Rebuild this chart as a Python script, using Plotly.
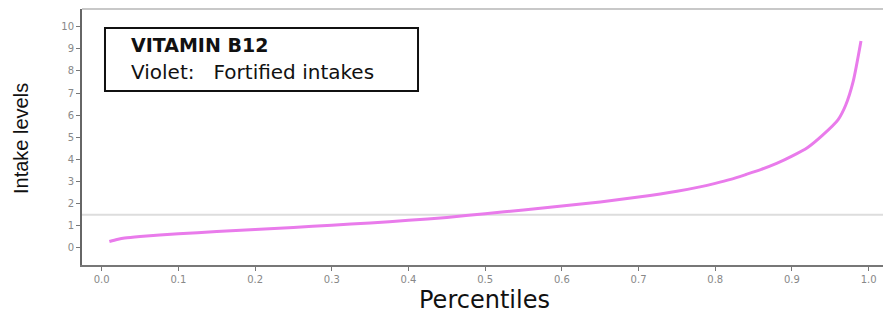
import plotly.graph_objects as go

percentiles = [0.01, 0.02, 0.03, 0.05, 0.10, 0.15, 0.20, 0.25, 0.30, 0.35, 0.40, 0.45,
               0.50, 0.55, 0.60, 0.65, 0.70, 0.75, 0.78, 0.80, 0.82, 0.84, 0.86, 0.88,
               0.90, 0.92, 0.94, 0.96, 0.97, 0.98, 0.99]
intake = [0.29, 0.38, 0.45, 0.52, 0.64, 0.74, 0.83, 0.93, 1.03, 1.13, 1.25, 1.38,
          1.55, 1.72, 1.90, 2.08, 2.30, 2.56, 2.76, 2.92, 3.10, 3.32, 3.55, 3.82,
          4.15, 4.53, 5.10, 5.79, 6.45, 7.55, 9.35]
reference_level = 1.5
x_ticks = [0.0, 0.1, 0.2, 0.3, 0.4, 0.5, 0.6, 0.7, 0.8, 0.9, 1.0]
y_ticks = list(range(0, 11))

fig = go.Figure()
fig.add_trace(go.Scatter(x=percentiles, y=intake, mode="lines",
                         line=dict(color="#E97BEB", width=3, shape="spline", smoothing=0.6),
                         showlegend=False))

fig.add_shape(type="line", xref="paper", yref="y", x0=0, x1=1,
              y0=reference_level, y1=reference_level,
              line=dict(color="#dddddd", width=2), layer="below")
fig.add_shape(type="line", xref="paper", yref="paper", x0=0, x1=1, y0=1, y1=1,
              line=dict(color="#c8c8c8", width=2))
fig.add_shape(type="rect", xref="paper", yref="paper", x0=0.0287, x1=0.4195,
              y0=0.680, y1=0.926, line=dict(color="#111111", width=2),
              fillcolor="rgba(0,0,0,0)")

fig.add_annotation(xref="paper", yref="paper", x=0.0587, y=0.859, xanchor="left",
                   yanchor="middle", showarrow=False, text="<b>VITAMIN B12</b>",
                   font=dict(family="DejaVu Sans", size=19, color="#111111"))
fig.add_annotation(xref="paper", yref="paper", x=0.0587, y=0.754, xanchor="left",
                   yanchor="middle", showarrow=False,
                   text="Violet:&nbsp;&nbsp; Fortified intakes",
                   font=dict(family="DejaVu Sans", size=20, color="#111111"))
fig.add_annotation(xref="paper", yref="paper", x=0.503, y=-0.137, xanchor="center",
                   yanchor="middle", showarrow=False, text="Percentiles",
                   font=dict(family="DejaVu Sans", size=24, color="#111111"))
fig.add_annotation(xref="paper", yref="paper", x=-0.0762, y=0.496, xanchor="center",
                   yanchor="middle", showarrow=False, text="Intake levels", textangle=-90,
                   font=dict(family="Liberation Sans", size=20, color="#111111"))

fig.update_layout(
    width=883, height=323,
    margin=dict(l=82, r=0, t=9, b=58),
    plot_bgcolor="white", paper_bgcolor="white",
    xaxis=dict(range=[-0.0257, 1.0187], tickvals=x_ticks, tickformat=".1f",
               showgrid=False, zeroline=False, showline=True, linecolor="#777777",
               linewidth=2, ticks="outside", ticklen=4, tickcolor="#777777",
               tickfont=dict(family="DejaVu Sans", size=10, color="#888888")),
    yaxis=dict(range=[-0.77, 10.8], tickvals=y_ticks, showgrid=False, zeroline=False,
               showline=True, linecolor="#666666", linewidth=2, ticks="outside",
               ticklen=4, tickcolor="#777777",
               tickfont=dict(family="DejaVu Sans", size=10, color="#888888")),
)

fig.write_html("out.html")
